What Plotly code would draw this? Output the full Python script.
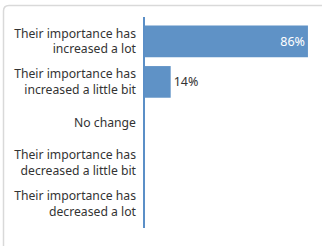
import plotly.graph_objects as go

categories = [
    "Their importance has<br>increased a lot",
    "Their importance has<br>increased a little bit",
    "No change",
    "Their importance has<br>decreased a little bit",
    "Their importance has<br>decreased a lot",
]
values = [86, 14, 0, 0, 0]
value_labels = ["86%", "14%", "", "", ""]
label_positions = ["inside", "outside", "none", "none", "none"]

W, H = 322, 246
ML, MR, MT, MB = 144, 7, 21, 22
pw, ph = W - ML - MR, H - MT - MB

def px_x(x):
    return (x - ML) / pw

def px_y(y):
    return 1 - (y - MT) / ph

BAR = "#5f92c6"

fig = go.Figure(
    go.Bar(
        y=categories,
        x=values,
        orientation="h",
        marker=dict(color=BAR, line=dict(width=0)),
        width=0.78,
        text=value_labels,
        textposition=label_positions,
        insidetextanchor="end",
        insidetextfont=dict(color="white", size=12.5, family="Noto Sans"),
        outsidetextfont=dict(color="#333333", size=12.5, family="Noto Sans"),
        cliponaxis=False,
        hoverinfo="skip",
    )
)

fig.add_shape(
    type="path", xref="paper", yref="paper",
    path=(f"M {px_x(3.5)},{px_y(300)} L {px_x(3.5)},{px_y(11)} "
          f"Q {px_x(3.5)},{px_y(5.5)} {px_x(9)},{px_y(5.5)} L {px_x(400)},{px_y(5.5)}"),
    line=dict(color="#d9d9d9", width=1.5), fillcolor="rgba(0,0,0,0)", layer="above",
)
fig.add_shape(
    type="line", xref="paper", yref="paper",
    x0=0, x1=0, y0=px_y(17), y1=px_y(228),
    line=dict(color="#5b8fc7", width=2),
)

fig.update_layout(
    width=W, height=H,
    margin=dict(l=ML, r=MR, t=MT, b=MB, pad=0),
    paper_bgcolor="white", plot_bgcolor="white",
    showlegend=False,
    font=dict(family="Noto Sans", size=12, color="#333333"),
    xaxis=dict(range=[0, 89.7], visible=False, fixedrange=True),
    yaxis=dict(
        autorange="reversed", showline=False, showgrid=False, zeroline=False,
        ticks="", ticklabelstandoff=7, fixedrange=True,
        tickfont=dict(family="Noto Sans", size=12.2, color="#333333"),
    ),
)

fig.write_html("out.html", config={"displayModeBar": False},
               post_script="document.body.style.margin='0';")
